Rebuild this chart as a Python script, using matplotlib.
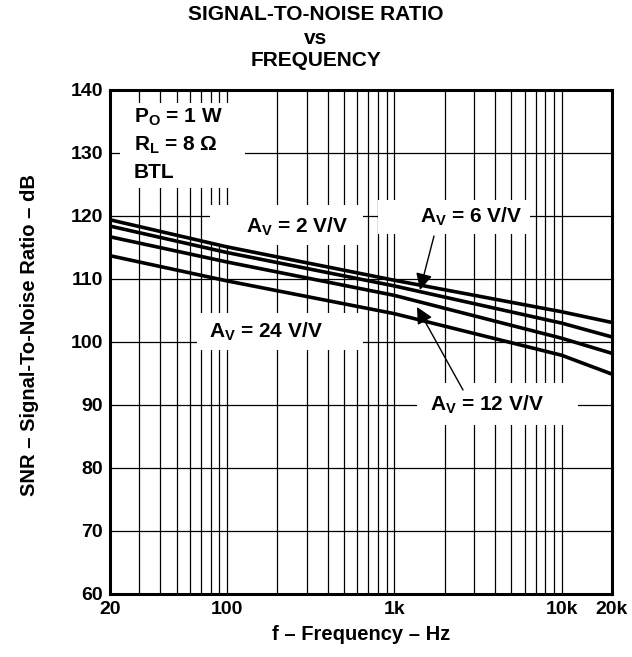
import matplotlib
matplotlib.use("Agg")
import matplotlib.pyplot as plt
from matplotlib.patches import Rectangle

plt.rcParams['font.family'] = ['Liberation Sans', 'DejaVu Sans']
plt.rcParams['font.weight'] = 'bold'
plt.rcParams['mathtext.fontset'] = 'custom'
plt.rcParams['mathtext.rm'] = 'Liberation Sans:bold'
plt.rcParams['mathtext.it'] = 'Liberation Sans:bold'
plt.rcParams['mathtext.bf'] = 'Liberation Sans:bold'

# values
freq = [20, 100, 1000, 10000, 20000]
snr_av2 = [119.4, 115.1, 109.8, 104.8, 103.1]
snr_av6 = [118.4, 114.2, 108.9, 103.0, 100.8]
snr_av12 = [116.7, 112.7, 107.4, 100.6, 98.2]
snr_av24 = [113.7, 109.7, 104.5, 97.9, 94.9]

xticks = [20, 100, 1000, 10000, 20000]
xlabels = ['20', '100', '1k', '10k', '20k']
yticks = [60, 70, 80, 90, 100, 110, 120, 130, 140]
minor_x = [30, 40, 50, 60, 70, 80, 90,
           200, 300, 400, 500, 600, 700, 800, 900,
           2000, 3000, 4000, 5000, 6000, 7000, 8000, 9000]

W, H = 632, 657
fig = plt.figure(figsize=(W / 100, H / 100), dpi=100)
L, R, T, B = 110, 612, 90, 594
ax = fig.add_axes([L / W, 1 - B / H, (R - L) / W, (B - T) / H])

ax.set_xscale('log')
ax.set_xlim(20, 20000)
ax.set_ylim(60, 140)
ax.set_xticks(xticks)
ax.set_xticklabels(xlabels)
ax.set_xticks(minor_x, minor=True)
ax.set_xticklabels([], minor=True)
ax.set_yticks(yticks)
ax.tick_params(which='both', length=0, labelsize=14, pad=5)
for lab in ax.get_xticklabels() + ax.get_yticklabels():
    lab.set_fontweight('bold')

ax.grid(True, which='both', color='black', lw=0.9)
ax.set_axisbelow(True)
for s in ax.spines.values():
    s.set_linewidth(2.2)
    s.set_zorder(6)


def px_box(x0, y0, x1, y1):
    # white boxes behind the labels, given in figure pixels
    rect = Rectangle(((x0 - L) / (R - L), (B - y1) / (B - T)),
                     (x1 - x0) / (R - L), (y1 - y0) / (B - T),
                     transform=ax.transAxes, facecolor='white',
                     edgecolor='none', zorder=2)
    ax.add_patch(rect)


px_box(120, 103, 245, 188)
px_box(210, 205, 363, 245)
px_box(197, 313, 363, 350)
px_box(417, 383, 578, 425)
px_box(378, 200, 530, 234)

for y in [snr_av2, snr_av6, snr_av12, snr_av24]:
    ax.plot(freq, y, color='black', lw=2.6, zorder=4, solid_capstyle='butt')


def fx(x):
    return (x - L) / (R - L)


def fy(y):
    return (B - y) / (B - T)


kw = dict(transform=ax.transAxes, fontsize=15, fontweight='bold', zorder=5)
ax.text(fx(134), fy(117), r'P$_\mathrm{O}$ = 1 W', ha='left', va='center', **kw)
ax.text(fx(134), fy(145), 'R$_\\mathrm{L}$ = 8 Ω', ha='left', va='center', **kw)
ax.text(fx(134), fy(172), 'BTL', ha='left', va='center', **kw)
ax.text(fx(297), fy(227), r'A$_\mathrm{V}$ = 2 V/V', ha='center', va='center', **kw)
ax.text(fx(471), fy(217), r'A$_\mathrm{V}$ = 6 V/V', ha='center', va='center', **kw)
ax.text(fx(266), fy(332), r'A$_\mathrm{V}$ = 24 V/V', ha='center', va='center', **kw)
ax.text(fx(487), fy(405), r'A$_\mathrm{V}$ = 12 V/V', ha='center', va='center', **kw)

arrow = dict(arrowstyle='-|>,head_length=1.0,head_width=0.5', color='black',
             lw=1.0, shrinkA=0, shrinkB=0)
ax.annotate('', xy=(fx(420), fy(290)), xycoords='axes fraction',
            xytext=(fx(434), fy(236)), textcoords='axes fraction',
            arrowprops=arrow, zorder=5)
ax.annotate('', xy=(fx(417), fy(307)), xycoords='axes fraction',
            xytext=(fx(463), fy(390)), textcoords='axes fraction',
            arrowprops=arrow, zorder=5)

fig.text(0.5, 1 - 15 / H, 'SIGNAL-TO-NOISE RATIO', ha='center', va='center',
         fontsize=15, fontweight='bold')
fig.text(0.5, 1 - 38 / H, 'vs', ha='center', va='center',
         fontsize=15, fontweight='bold')
fig.text(0.5, 1 - 61 / H, 'FREQUENCY', ha='center', va='center',
         fontsize=15, fontweight='bold')
fig.text((L + R) / 2 / W, 1 - 634 / H, 'f – Frequency – Hz', ha='center',
         va='center', fontsize=14.5, fontweight='bold')
fig.text(30 / W, 1 - 335 / H, 'SNR – Signal-To-Noise Ratio – dB',
         ha='center', va='center', rotation=90, fontsize=14.5, fontweight='bold')

fig.savefig('out.png', dpi=100)
